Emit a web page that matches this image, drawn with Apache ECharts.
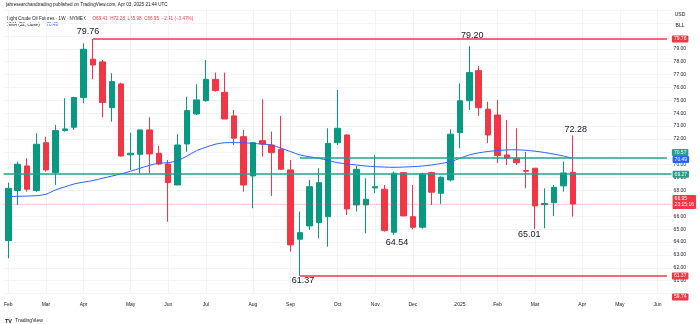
<!DOCTYPE html>
<html><head><meta charset="utf-8">
<script src="https://cdn.jsdelivr.net/npm/echarts/dist/echarts.min.js"></script>
<style>html,body{margin:0;padding:0;background:#fff}#c{width:700px;height:324px}</style>
</head><body><div id="c"></div>
<script>
// Weekly categories (Mon of each week)
const weeks = ['2024-02-05','2024-02-12','2024-02-19','2024-02-26','2024-03-04','2024-03-11','2024-03-18','2024-03-25',
'2024-04-01','2024-04-08','2024-04-15','2024-04-22','2024-04-29','2024-05-06','2024-05-13','2024-05-20','2024-05-27',
'2024-06-03','2024-06-10','2024-06-17','2024-06-24','2024-07-01','2024-07-08','2024-07-15','2024-07-22','2024-07-29',
'2024-08-05','2024-08-12','2024-08-19','2024-08-26','2024-09-02','2024-09-09','2024-09-16','2024-09-23','2024-09-30',
'2024-10-07','2024-10-14','2024-10-21','2024-10-28','2024-11-04','2024-11-11','2024-11-18','2024-11-25',
'2024-12-02','2024-12-09','2024-12-16','2024-12-23','2024-12-30','2025-01-06','2025-01-13','2025-01-20','2025-01-27',
'2025-02-03','2025-02-10','2025-02-17','2025-02-24','2025-03-03','2025-03-10','2025-03-17','2025-03-24','2025-03-31',
'2025-04-07','2025-04-14','2025-04-21','2025-04-28','2025-05-05','2025-05-12','2025-05-19','2025-05-26','2025-06-02','2025-06-09'];

const opens  = [64.11,68.00,69.91,68.00,71.71,69.39,72.65,72.91,75.21,78.19,77.98,74.43,76.27,70.77,70.81,72.70,70.89,70.06,68.43,71.61,
73.94,74.97,76.63,75.62,73.79,72.18,69.13,71.87,71.53,71.20,69.60,64.22,65.25,65.51,65.97,71.71,72.31,66.88,66.88,68.20,
68.10,64.76,69.39,65.97,65.15,69.39,67.79,68.82,72.49,74.97,77.30,74.31,73.86,70.76,70.50,69.55,69.73,66.90,67.06,68.36,69.41];
const closes = [68.17,70.04,68.10,71.59,69.60,72.65,72.78,75.21,78.96,77.74,74.82,76.45,70.68,70.89,72.70,70.84,70.06,68.61,71.53,74.20,
75.03,76.63,75.75,73.55,72.06,68.43,71.71,71.61,70.94,69.65,63.78,64.73,68.30,68.61,71.66,72.83,66.57,69.65,67.32,68.30,
64.89,69.34,66.03,65.15,69.29,67.87,69.03,72.37,74.97,77.15,74.43,72.31,70.71,70.50,70.16,69.50,66.80,67.00,68.25,69.36,66.95];
const lows   = [62.74,66.88,67.91,67.90,69.46,68.43,72.57,72.70,74.77,76.63,73.68,73.34,70.63,69.60,69.34,69.34,69.98,65.58,68.43,71.00,
73.86,74.89,75.67,73.55,71.53,67.91,66.62,70.63,67.58,69.60,63.26,61.37,64.94,64.29,63.64,71.53,66.10,66.36,64.68,67.79,
64.81,64.54,66.00,65.00,65.05,66.88,66.96,68.70,71.28,74.25,73.79,71.67,70.12,69.98,69.98,68.17,65.01,65.07,66.03,67.91,65.98];
const highs  = [68.61,70.24,70.50,72.44,72.18,73.09,75.16,75.28,79.42,79.76,78.13,77.10,76.37,72.49,72.75,73.68,71.46,70.37,72.37,75.28,
76.25,78.13,77.15,77.15,74.25,72.70,71.75,75.08,72.57,73.79,70.37,66.36,68.82,69.73,72.83,75.80,72.35,69.91,68.95,70.76,
68.43,69.46,69.42,68.43,69.40,69.46,69.10,72.75,76.32,79.20,77.66,74.89,75.03,73.47,72.83,71.00,69.73,68.17,68.43,70.24,72.28];
const sma52  = [67.52,67.55,67.57,67.60,67.71,68.04,68.28,68.51,68.65,68.77,68.95,69.12,69.29,69.50,69.73,69.95,70.12,70.16,70.32,70.68,
71.09,71.36,71.59,71.71,71.72,71.70,71.66,71.60,71.53,71.28,71.02,70.76,70.62,70.50,70.33,70.16,70.06,69.98,69.90,69.85,
69.82,69.80,69.82,69.85,69.90,69.98,70.10,70.24,70.50,70.76,70.92,71.03,71.10,71.15,71.16,71.12,71.05,70.95,70.82,70.68,70.49];

const xTickIdx  = [0,4,8,13,17,21,26,30,35,39,43,48,52,56,61,65,69];
const xTickText = ['Feb','Mar','Apr','May','Jun','Jul','Aug','Sep','Oct','Nov','Dec','2025','Feb','Mar','Apr','May','Jun'];

// drawn horizontal levels
const resistanceHigh = 79.76, resistanceHighStart = 9;
const supportLow = 61.37, supportLowStart = 31;
const rangeTop = 70.57, rangeTopStart = 31;
const pivotLevel = 69.27;
const lastClose = 66.95;
const lastSma = 70.49;
const offscreenTag = 59.74;

// price annotations
const annoIdx = [9, 49, 60, 41, 31, 56];
const annoVal = [79.76, 79.20, 72.28, 64.54, 61.37, 65.01];

const UP = '#089981', DOWN = '#f23645', TEAL = '#22a08a', BLUE = '#2962ff';
const FONT = 'Liberation Sans, Arial, sans-serif';

const annoOffsets = [[-5,-7],[3,-11],[3,-6],[3,7],[3,5],[-6,5]];

function tag(bg, text, extra) {
  return Object.assign({show:true, position:'end', distance:1, color:'#fff', backgroundColor:bg,
    fontSize:5, fontFamily:FONT, padding:[1,2,1,2], borderRadius:1, formatter:text}, extra||{});
}

const chart = echarts.init(document.getElementById('c'), null, {renderer:'canvas'});
chart.setOption({
  animation:false,
  backgroundColor:'#ffffff',
  grid:{left:3.6, top:10.1, width:668, height:283.5},
  xAxis:{type:'category', data:weeks, boundaryGap:true,
    axisLine:{show:false}, axisTick:{show:false},
    axisLabel:{interval:(i)=>xTickIdx.indexOf(i)>=0, formatter:(v,i)=>xTickText[xTickIdx.indexOf(i)]||'',
      fontSize:5, color:'#131722', margin:9, fontFamily:FONT},
    splitLine:{show:true, alignWithLabel:true, interval:(i)=>xTickIdx.indexOf(i)>=0, lineStyle:{color:'#f0f3fa', width:1}}
  },
  yAxis:{type:'value', position:'right', min:60, max:82, interval:1, scale:true,
    axisLine:{show:false}, axisTick:{show:false},
    axisLabel:{fontSize:5, color:'#131722', margin:2, fontFamily:FONT,
      formatter:(v)=> (v>=80||v<=60)?'':v.toFixed(2)},
    splitLine:{lineStyle:{color:'#f2f4f8', width:1}}
  },
  series:[
    {type:'candlestick', name:'CL', barWidth:6,
     data: opens.map((o,i)=>[o, closes[i], lows[i], highs[i]]),
     itemStyle:{color:UP, color0:DOWN, borderColor:UP, borderColor0:DOWN, borderWidth:1},
     markLine:{silent:true, symbol:['none','none'], animation:false, precision:2,
       data:[
         [{coord:[resistanceHighStart, resistanceHigh], lineStyle:{color:DOWN, width:1.5, type:'solid'}, label:tag(DOWN, resistanceHigh.toFixed(2), {distance:5})},
          {coord:[70, resistanceHigh]}],
         [{coord:[supportLowStart, supportLow], lineStyle:{color:DOWN, width:1.5, type:'solid'}, label:tag(DOWN, supportLow.toFixed(2), {distance:5})},
          {coord:[70, supportLow]}],
         [{coord:[rangeTopStart, rangeTop], lineStyle:{color:TEAL, width:1.5, type:'solid'}, label:tag(TEAL, rangeTop.toFixed(2), {distance:5, offset:[0,-5]})},
          {coord:[70, rangeTop]}],
         {yAxis:pivotLevel, lineStyle:{color:TEAL, width:1.5, type:'solid'}, label:tag(TEAL, pivotLevel.toFixed(2))},
         {yAxis:lastClose, lineStyle:{color:'rgba(242,54,69,0.45)', width:1, type:'dotted'},
          label:tag(DOWN, lastClose.toFixed(2)+'\n23:15:16', {lineHeight:6, offset:[0,-2]})}
       ]},
     markPoint:{silent:true, animation:false,
       data: annoIdx.map((ix,i)=>({coord:[ix, annoVal[i]], name:annoVal[i].toFixed(2), symbol:'circle', symbolSize:0,
         label:{show:true, position:'inside', formatter:'{b}', fontSize:9, color:'#131722', fontFamily:FONT, offset:annoOffsets[i]}}))
     }
    },
    {type:'line', name:'SMA', data:sma52, symbol:'none', smooth:0.3,
     lineStyle:{color:BLUE, width:1}, z:3,
     markLine:{silent:true, symbol:['none','none'], animation:false, precision:2,
       data:[{yAxis:lastSma, lineStyle:{color:'rgba(0,0,0,0)', width:1}, label:tag(BLUE, lastSma.toFixed(2), {offset:[0,1]})}]}
    }
  ],
  graphic:[
    {type:'text', left:6, top:2, style:{text:'jahresearchandtrading published on TradingView.com, Apr 03, 2025 21:44 UTC', fontSize:4.6, fill:'#131722', fontFamily:FONT}},
    {type:'text', left:7, top:12.5, style:{text:'{a|Light Crude Oil Futures · 1W · NYMEX}  {b|O69.41  H72.28  L65.98  C66.95  −2.41 (−3.47%)}',
      rich:{a:{fontSize:4.6, lineHeight:5, fill:'#131722', fontFamily:FONT}, b:{fontSize:4.6, lineHeight:5, fill:DOWN, fontFamily:FONT}}}},
    {type:'text', left:7, top:19, style:{text:'{a|SMA (52, close)}  {b|70.49}',
      rich:{a:{fontSize:4.6, lineHeight:5, fill:'#131722', fontFamily:FONT}, b:{fontSize:4.6, lineHeight:5, fill:BLUE, fontFamily:FONT}}}},
    {type:'text', x:680, y:15, style:{text:'USD', fontSize:5, fill:'#131722', fontFamily:FONT, align:'center', verticalAlign:'middle'}},
    {type:'text', x:680, y:26, style:{text:'BLL', fontSize:5, fill:'#131722', fontFamily:FONT, align:'center', verticalAlign:'middle'}},
    {type:'group', x:672, y:293.5, children:[
      {type:'rect', shape:{x:0,y:0,width:16.5,height:7,r:1}, style:{fill:DOWN}},
      {type:'text', x:8.25, y:3.6, style:{text:offscreenTag.toFixed(2), fontSize:5, fill:'#fff', fontFamily:FONT, align:'center', verticalAlign:'middle'}}
    ]},
    {type:'text', left:5, top:315, style:{text:'{l|TV} {t|TradingView}',
      rich:{l:{fontSize:5.5, fontWeight:'bold', fill:'#131722', fontFamily:FONT}, t:{fontSize:5, fill:'#131722', fontFamily:FONT}}}}
  ]
});
</script>
</body></html>
